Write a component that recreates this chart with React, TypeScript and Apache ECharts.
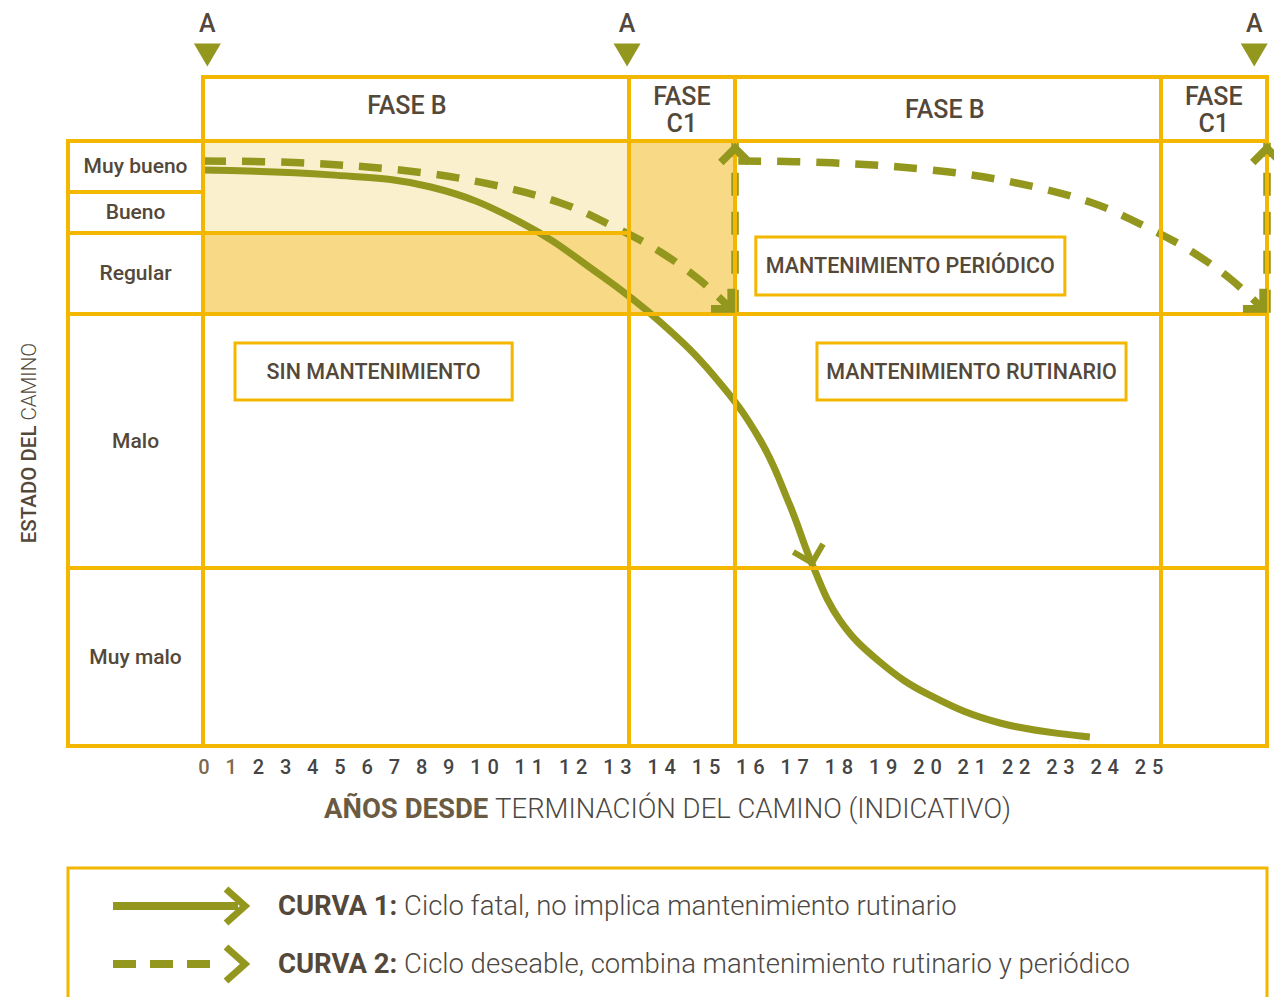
import React, { useEffect, useRef } from "react";
import * as echarts from "echarts";

// ---------- data ----------
const phaseBounds = [0, 8, 10, 18, 20];
const phaseNames = ["FASE B", "FASE\nC1", "FASE B", "FASE\nC1"];
const headerTop = 110.58;
const labelColLeft = -2.54;
const rowBounds = [0, 29.4, 71.4, 84.8, 91.6, 100];
const rowNames = ["Muy malo", "Malo", "Regular", "Bueno", "Muy bueno"];
const yearLabels = ["0","1","2","3","4","5","6","7","8","9","10","11","12","13","14","15","16","17","18","19","20","21","22","23","24","25"];
const markerAX = [0.08, 7.97, 19.76];

const curve1X = [0, 2.39, 4.28, 5.96, 7.46, 8.59, 9.62, 10.47, 11.03, 11.47, 11.97, 12.72, 13.66, 14.98, 16.67];
const curve1Y = [95.2, 94.4, 92.4, 86.6, 77.9, 70.1, 61.0, 50.6, 39.8, 29.6, 20.8, 13.9, 8.4, 3.8, 1.5];
const curve1ArrowIndex = 9;

const curve2aX = [0, 1.82, 3.7, 5.21, 6.71, 7.84, 8.59, 9.34, 10.0];
const curve2aY = [96.7, 96.4, 95.2, 93.2, 89.8, 85.3, 81.7, 77.0, 71.6];
const curve2bX = [10.06, 11.82, 13.7, 15.21, 16.71, 17.84, 18.59, 19.34, 20.0];
const curve2bY = [96.7, 96.4, 95.2, 93.2, 89.8, 85.3, 81.7, 77.0, 71.6];
const resetX = [10, 20];
const resetY = [71.6, 99.7];

const boxTexts = ["SIN MANTENIMIENTO", "MANTENIMIENTO PERIÓDICO", "MANTENIMIENTO RUTINARIO"];
// [x0, x1, y0, y1] in axis units
const boxArea = [
  [0.6, 5.81, 57.19, 66.61],
  [10.39, 16.2, 74.55, 84.13],
  [11.54, 17.35, 57.19, 66.61],
];

const legendTitles = ["CURVA 1:", "CURVA 2:"];
const legendTexts = [
  "Ciclo fatal, no implica mantenimiento rutinario",
  "Ciclo deseable, combina mantenimiento rutinario y periódico",
];

// ---------- styles ----------
const YELLOW = "#f3b700";
const OLIVE = "#94971d";
const TEXT = "#54483a";
const LIGHT = "#4d4843";
const CREAM = "#fbf0cd";
const SHADE = "#f8da86";
const FONT = "Roboto";

const CHEV1 = "path://M0,12L12,0L50,38L88,0L100,12L50,62ZM50,124L50.01,124L50,124.01Z";
const CHEV2 = "path://M0,16L16,0L50,34L84,0L100,16L50,66ZM50,132L50.01,132L50,132.01Z";

function buildOption() {
  const seg = (x1: number, y1: number, x2: number, y2: number) => [
    { coord: [x1, y1] },
    { coord: [x2, y2] },
  ];
  const lines: any[] = [];
  lines.push(seg(labelColLeft, rowBounds[0], labelColLeft, rowBounds[5]));
  phaseBounds.forEach((x) => lines.push(seg(x, 0, x, headerTop)));
  lines.push(seg(phaseBounds[0], headerTop, phaseBounds[4], headerTop));
  lines.push(seg(labelColLeft, rowBounds[5], phaseBounds[4], rowBounds[5]));
  lines.push(seg(labelColLeft, rowBounds[4], phaseBounds[0], rowBounds[4]));
  lines.push(seg(labelColLeft, rowBounds[3], phaseBounds[1], rowBounds[3]));
  [rowBounds[2], rowBounds[1], rowBounds[0]].forEach((y) =>
    lines.push(seg(labelColLeft, y, phaseBounds[4], y))
  );

  const labelData: any[] = [];
  rowNames.forEach((n, i) => {
    labelData.push({
      name: n,
      value: [(labelColLeft + phaseBounds[0]) / 2, (rowBounds[i] + rowBounds[i + 1]) / 2],
      label: { fontSize: 21, fontWeight: 500 },
    });
  });
  const headerOffsets = [[-9, -3], [0, 1], [-3, 1], [0, 1]];
  phaseNames.forEach((n, i) => {
    labelData.push({
      name: n,
      value: [(phaseBounds[i] + phaseBounds[i + 1]) / 2, (headerTop + rowBounds[5]) / 2],
      label: { fontSize: 25, fontWeight: 500, lineHeight: 27, offset: headerOffsets[i] },
    });
  });

  // year tick labels: spaced text
  const graphics: any[] = [];
  let cursor = 198.4;
  yearLabels.forEach((lab, i) => {
    for (const ch of lab) {
      graphics.push({
        type: "text",
        x: cursor + 5.6,
        y: 767,
        style: {
          text: ch,
          fontSize: 20,
          fontWeight: 500,
          fontFamily: FONT,
          fill: i < 2 ? "#7b6a4c" : "#454545",
          align: "center",
          verticalAlign: "middle",
        },
      });
      cursor += 17.1;
    }
    cursor += 10.1;
  });

  // y title
  graphics.push({
    type: "text",
    x: 29,
    y: 443,
    rotation: Math.PI / 2,
    style: {
      text: "{b|ESTADO DEL} {l|CAMINO}",
      fontSize: 20,
      fontFamily: FONT,
      fill: TEXT,
      align: "center",
      verticalAlign: "middle",
      rich: {
        b: { fontSize: 20.5, fontWeight: 500, fill: TEXT, fontFamily: FONT },
        l: { fontSize: 20.5, fontWeight: 300, fill: TEXT, fontFamily: FONT },
      },
    },
  });

  // legend
  graphics.push({
    type: "rect",
    shape: { x: 68, y: 868, width: 1199, height: 140 },
    style: { fill: "#ffffff", stroke: YELLOW, lineWidth: 3 },
  });
  const legY = [906, 964];
  legY.forEach((y, i) => {
    graphics.push({
      type: "line",
      shape: { x1: 113, y1: y, x2: i === 0 ? 238 : 212, y2: y },
      style: { stroke: OLIVE, lineWidth: 8, lineDash: i === 0 ? null : [23, 14] },
    });
    graphics.push({
      type: "polyline",
      shape: { points: [[226, y - 17], [245, y], [226, y + 17]] },
      style: { stroke: OLIVE, lineWidth: 7, fill: null, lineJoin: "miter" },
    });
    graphics.push({
      type: "text",
      x: 278,
      y: y - 1,
      style: {
        text: `{b|${legendTitles[i]}} {r|${legendTexts[i]}}`,
        fontSize: 27.5,
        fontFamily: FONT,
        fill: TEXT,
        verticalAlign: "middle",
        align: "left",
        rich: {
          b: { fontSize: 27.5, fontWeight: 700, fill: TEXT, fontFamily: FONT },
          r: { fontSize: 27.5, fontWeight: 300, fill: LIGHT, fontFamily: FONT },
        },
      },
    });
  });

  const pairs = (xs: number[], ys: number[]) => xs.map((x, i) => [x, ys[i]]);
  const dashed = { color: OLIVE, width: 7.5, type: [23, 16] };

  return {
    animation: false,
    grid: { left: 68, right: 7, top: 0, bottom: 251, outerBoundsMode: "none" },
    xAxis: {
      type: "value",
      min: labelColLeft,
      max: phaseBounds[4],
      axisLine: { show: false },
      axisTick: { show: false },
      axisLabel: { show: false },
      splitLine: { show: false },
      name: "{b|AÑOS DESDE} {l|TERMINACIÓN DEL CAMINO (INDICATIVO)}",
      nameLocation: "middle",
      nameGap: 48,
      nameTextStyle: {
        fontSize: 27.5,
        fontFamily: FONT,
        color: TEXT,
        rich: {
          b: { fontSize: 27.5, fontWeight: 700, color: "#6b5b42", fontFamily: FONT },
          l: { fontSize: 27.5, fontWeight: 300, color: LIGHT, fontFamily: FONT },
        },
      },
    },
    yAxis: {
      type: "value",
      min: 0,
      max: 123.306,
      show: false,
    },
    series: [
      {
        type: "scatter",
        z: 0,
        silent: true,
        symbolSize: 0,
        data: [[-10, -10]],
        markArea: {
          silent: true,
          label: { show: false },
          data: [
            [{ coord: [phaseBounds[0], rowBounds[3]], itemStyle: { color: CREAM } }, { coord: [phaseBounds[1], rowBounds[5]] }],
            [{ coord: [phaseBounds[0], rowBounds[2]], itemStyle: { color: SHADE } }, { coord: [phaseBounds[1], rowBounds[3]] }],
            [{ coord: [phaseBounds[1], rowBounds[2]], itemStyle: { color: SHADE } }, { coord: [phaseBounds[2], rowBounds[5]] }],
          ],
        },
      },
      {
        type: "scatter",
        z: 1,
        silent: true,
        symbolSize: 0,
        data: [[-10, -10]],
        markLine: {
          silent: true,
          symbol: ["none", "none"],
          label: { show: false },
          lineStyle: { color: YELLOW, width: 4, type: "solid", cap: "square" },
          data: lines,
        },
      },
      {
        type: "scatter",
        z: 2,
        silent: true,
        symbolSize: 0,
        data: [[-10, -10]],
        markArea: {
          silent: true,
          itemStyle: { color: "#ffffff", borderColor: YELLOW, borderWidth: 3, opacity: 1 },
          label: {
            show: true,
            position: "inside",
            color: TEXT,
            fontFamily: FONT,
            fontSize: 21.5,
            fontWeight: 500,
          },
          data: boxTexts.map((t, i) => [
            { name: t, coord: [boxArea[i][0], boxArea[i][2]] },
            { coord: [boxArea[i][1], boxArea[i][3]] },
          ]),
        },
      },
      {
        type: "line",
        z: 3,
        silent: true,
        data: pairs(curve1X, curve1Y),
        smooth: 0.4,
        showSymbol: false,
        lineStyle: { color: OLIVE, width: 7 },
        markPoint: {
          silent: true,
          symbol: CHEV1,
          symbolSize: [35, 43.4],
          itemStyle: { color: OLIVE },
          label: { show: false },
          data: [{ coord: [curve1X[curve1ArrowIndex], curve1Y[curve1ArrowIndex]], symbolRotate: 15 }],
        },
      },
      {
        type: "line",
        z: 3,
        silent: true,
        data: pairs(curve2aX, curve2aY),
        smooth: 0.35,
        showSymbol: false,
        lineStyle: dashed,
        markPoint: {
          silent: true,
          symbol: CHEV2,
          symbolSize: [34, 44.9],
          itemStyle: { color: OLIVE },
          label: { show: false },
          data: [{ coord: [curve2aX[8], curve2aY[8]], symbolRotate: 45 }],
        },
      },
      {
        type: "line",
        z: 3,
        silent: true,
        data: pairs(curve2bX, curve2bY),
        smooth: 0.35,
        showSymbol: false,
        lineStyle: dashed,
        markPoint: {
          silent: true,
          symbol: CHEV2,
          symbolSize: [34, 44.9],
          itemStyle: { color: OLIVE },
          label: { show: false },
          data: [{ coord: [curve2bX[8], curve2bY[8]], symbolRotate: 45 }],
        },
      },
      ...resetX.map((x) => ({
        type: "line",
        z: 3,
        silent: true,
        data: [[x, resetY[0]], [x, resetY[1]]],
        showSymbol: false,
        lineStyle: dashed,
        markPoint: {
          silent: true,
          symbol: CHEV2,
          symbolSize: [34, 44.9],
          itemStyle: { color: OLIVE },
          label: { show: false },
          data: [{ coord: [x, resetY[1]], symbolRotate: 180 }],
        },
      })),
      {
        type: "scatter",
        z: 4,
        silent: true,
        symbol: "triangle",
        symbolRotate: 180,
        symbolSize: [27, 23],
        itemStyle: { color: OLIVE, opacity: 1 },
        data: markerAX.map((x) => [x, 114.2]),
        label: {
          show: true,
          position: "top",
          distance: 8,
          formatter: "A",
          fontSize: 25,
          fontWeight: 500,
          fontFamily: FONT,
          color: TEXT,
        },
      },
      {
        type: "scatter",
        z: 5,
        silent: true,
        symbolSize: 0,
        itemStyle: { opacity: 1 },
        data: labelData,
        label: {
          show: true,
          position: "inside",
          formatter: "{b}",
          color: TEXT,
          opacity: 1,
          fontFamily: FONT,
        },
      },
    ],
    graphic: graphics,
  };
}

export default function App() {
  const ref = useRef<HTMLDivElement>(null);
  useEffect(() => {
    const chart = echarts.init(ref.current!, null, { renderer: "svg" });
    chart.setOption(buildOption() as any);
    return () => chart.dispose();
  }, []);
  return (
    <div
      ref={ref}
      style={{ position: "absolute", left: 0, top: 0, width: 1274, height: 997, background: "#ffffff" }}
    />
  );
}
